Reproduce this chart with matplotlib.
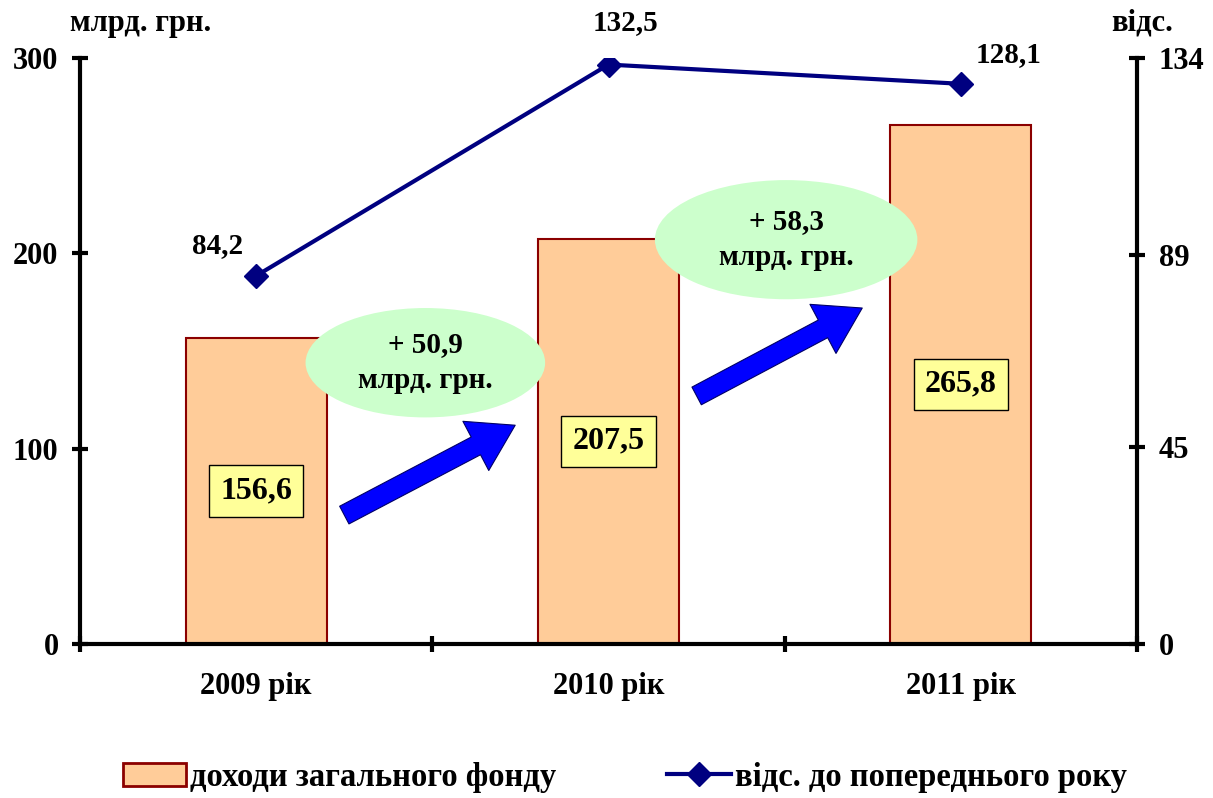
import matplotlib
matplotlib.use("Agg")
import matplotlib.pyplot as plt
from matplotlib.patches import Ellipse, FancyArrowPatch, Patch
from matplotlib.lines import Line2D

plt.rcParams['font.family'] = 'Liberation Serif'
plt.rcParams['font.weight'] = 'bold'

years = ["2009 рік", "2010 рік", "2011 рік"]
income = [156.6, 207.5, 265.8]
income_labels = ["156,6", "207,5", "265,8"]
pct_prev = [84.2, 132.5, 128.1]
pct_labels = ["84,2", "132,5", "128,1"]
growth_labels = ["+ 50,9\nмлрд. грн.", "+ 58,3\nмлрд. грн."]

left_ticks = [0, 100, 200, 300]
right_ticks = [0, 45, 89, 134]

fig = plt.figure(figsize=(12.13, 7.98), dpi=100)
ax = fig.add_axes([0.066, 0.193, 0.8714, 0.7343])
ax2 = ax.twinx()

x = list(range(len(years)))

# bars
ax.bar(x, income, width=0.4, color="#FFCC99", edgecolor="#8B0000", linewidth=1.5, zorder=2)
for xi, v, lab in zip(x, income, income_labels):
    ax.text(xi, v / 2, lab, ha="center", va="center", fontsize=23, fontweight="bold", zorder=5,
            bbox=dict(boxstyle="square,pad=0.35", facecolor="#FFFF99", edgecolor="black", linewidth=1))

# growth ellipses + arrows
ell_pos = [(0.48, 144, 0.68, 56), (1.504, 207, 0.745, 61)]
for (ex, ey, ew, eh), lab in zip(ell_pos, growth_labels):
    ax.add_patch(Ellipse((ex, ey), ew, eh, facecolor="#CCFFCC", edgecolor="none", zorder=4))
    ax.text(ex, ey, lab, ha="center", va="center", fontsize=21, fontweight="bold",
            linespacing=1.45, zorder=5)

arrows = [((0.25, 66), (0.735, 112)), ((1.25, 127), (1.72, 172))]
for a, b in arrows:
    ax.add_patch(FancyArrowPatch(a, b, arrowstyle="simple,head_length=0.8,head_width=1.0,tail_width=0.36",
                                 mutation_scale=40, facecolor="#0000FF", edgecolor="#000066",
                                 linewidth=0.8, shrinkA=0, shrinkB=0, zorder=4))

# line on right axis
ax2.plot(x, pct_prev, color="#000080", linewidth=3, marker="D", markersize=12, zorder=6)
offsets = [(-28, 22), (12, 30), (34, 21)]
for xi, v, lab, off in zip(x, pct_prev, pct_labels, offsets):
    ax2.annotate(lab, (xi, v), xytext=off, textcoords="offset points", ha="center", va="center",
                 fontsize=21, fontweight="bold")

ax.set_xlim(-0.5, 2.5)
ax.set_ylim(0, 300)
ax2.set_ylim(0, 134)

ax.set_yticks(left_ticks)
ax2.set_yticks(right_ticks)
ax.set_xticks([-0.5, 0.5, 1.5, 2.5])
ax.set_xticklabels([])
ax.set_xticks(x, minor=True)
ax.set_xticklabels(years, minor=True)

for a in (ax, ax2):
    for s in a.spines.values():
        s.set_linewidth(3)
    a.spines["top"].set_visible(False)
ax.spines["right"].set_visible(False)
ax2.spines["left"].set_visible(False)
ax2.spines["bottom"].set_visible(False)

ax.tick_params(axis="y", direction="inout", length=11, width=3, labelsize=22, pad=10)
ax2.tick_params(axis="y", direction="inout", length=11, width=3, labelsize=22, pad=10)
ax.tick_params(axis="x", which="major", direction="inout", length=11, width=3)
ax.tick_params(axis="x", which="minor", length=0, labelsize=22, pad=20)
for lab in ax.get_yticklabels() + ax2.get_yticklabels() + ax.get_xticklabels(minor=True):
    lab.set_fontweight("bold")

ax.text(0.057, 1.035, "млрд. грн.", transform=ax.transAxes, ha="center", va="bottom",
        fontsize=22, fontweight="bold")
ax2.text(1.005, 1.035, "відс.", transform=ax2.transAxes, ha="center", va="bottom",
         fontsize=22, fontweight="bold")

handles = [Patch(facecolor="#FFCC99", edgecolor="#8B0000", linewidth=2),
           Line2D([], [], color="#000080", linewidth=3, marker="D", markersize=12)]
fig.legend(handles, ["доходи загального фонду", "відс. до попереднього року"],
           loc="lower center", bbox_to_anchor=(0.515, -0.03), ncol=2, frameon=False,
           prop=dict(family="Liberation Serif", size=23.5, weight="bold"),
           columnspacing=3.4, handlelength=1.95, handletextpad=0.12)

fig.savefig("out.png", dpi=100)
